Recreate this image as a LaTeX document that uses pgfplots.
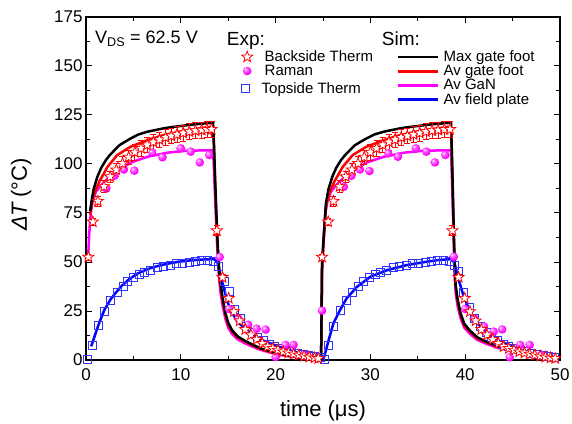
\documentclass[border=0pt]{standalone}
\usepackage{pgfplots}
\pgfplotsset{compat=1.18}
\usepackage{pgfplotstable}
\usepackage{fontspec}
\setmainfont{Liberation Sans}

\definecolor{simred}{RGB}{255,0,0}
\definecolor{simmag}{RGB}{255,0,255}
\definecolor{simblue}{RGB}{0,0,255}
\colorlet{sqblue}{simblue!80!white}

% open five-pointed star
\pgfdeclareplotmark{ostar}{%
  \pgfpathmoveto{\pgfpointpolar{90}{\pgfplotmarksize}}%
  \pgfpathlineto{\pgfpointpolar{126}{0.42\pgfplotmarksize}}%
  \pgfpathlineto{\pgfpointpolar{162}{\pgfplotmarksize}}%
  \pgfpathlineto{\pgfpointpolar{198}{0.42\pgfplotmarksize}}%
  \pgfpathlineto{\pgfpointpolar{234}{\pgfplotmarksize}}%
  \pgfpathlineto{\pgfpointpolar{270}{0.42\pgfplotmarksize}}%
  \pgfpathlineto{\pgfpointpolar{306}{\pgfplotmarksize}}%
  \pgfpathlineto{\pgfpointpolar{342}{0.42\pgfplotmarksize}}%
  \pgfpathlineto{\pgfpointpolar{18}{\pgfplotmarksize}}%
  \pgfpathlineto{\pgfpointpolar{54}{0.42\pgfplotmarksize}}%
  \pgfpathclose
  \pgfusepathqfillstroke
}

% bright magenta sphere for the Raman points
\pgfdeclareradialshading{magball}{\pgfqpoint{-12bp}{12bp}}{%
  color(0bp)=(white); color(9bp)=(simmag!55!white); color(24bp)=(simmag);
  color(42bp)=(simmag!85!black); color(50bp)=(simmag!75!black)}
\pgfdeclareplotmark{magball}{%
  \pgfpathcircle{\pgfpointorigin}{\pgfplotmarksize}%
  \pgfshadepath{magball}{0}%
  \pgfusepath{}%
}

% --- simulation ---
\pgfplotstableread{
x y
0.45 76
0.55 80
0.8 87
1.2 93.5
1.6 98
2.1 102
2.5 104.5
3.0 107
3.5 109.5
4.0 111
4.7 113
5.5 115
6.5 116.5
7.0 117
8.2 118.2
9.0 118.8
10.0 119.4
11.0 120
12.0 120.5
13.3 121
13.4 121
13.5 110
13.6 95
13.75 75
13.9 58
14.05 46
14.2 39
14.4 32
14.7 24
15.0 19
15.4 15.3
16.0 12
16.7 10
17.5 8
18.4 6
19.5 4.3
20.5 3.1
21.5 2.2
22.6 1.4
23.6 0.9
24.6 0.5
24.8 0.3
24.9 50
25.2 72
25.31 80
25.57 87
25.98 93.5
26.39 98
26.9 102
27.32 104.5
27.83 107
28.34 109.5
28.85 111
29.57 113
30.39 115
31.42 116.5
31.93 117
33.16 118.2
33.98 118.8
35.01 119.4
36.04 120
37.06 120.5
38.4 121
38.5 121
38.6 105
38.7 85
38.8 65
38.9 47
39.0 38
39.2 31
39.5 24
39.9 18.5
40.5 15
41.3 11.5
42.3 9.2
43.5 7
45.1 5
46.5 3.3
47.9 2
49.6 0.9
}\maxfoot

\pgfplotstableread{
x y
0.45 74
0.5 77
0.8 84
1.4 91
2.28 98.6
3.3 104.6
4.7 108.8
6.5 112.2
8.2 114.8
10.7 117.3
13.2 119
13.4 119
13.5 108
13.6 93
13.75 73
13.9 56
14.05 44
14.2 37
14.4 30.5
14.7 23
15.0 18
15.4 14.6
16.0 11.5
16.7 9.6
17.5 7.6
18.4 5.7
19.5 4.1
20.5 2.9
21.5 2.1
22.6 1.3
23.6 0.8
24.6 0.4
24.8 0.3
24.9 48
25.2 70
25.26 77
25.57 84
26.19 91
27.09 98.6
28.14 104.6
29.57 108.8
31.42 112.2
33.16 114.8
35.73 117.3
38.29 119
38.5 119
38.6 103
38.7 83
38.8 63
38.9 45
39.0 36.5
39.2 29.5
39.5 23
39.9 17.6
40.5 14.3
41.3 11
42.3 8.8
43.5 6.7
45.1 4.8
46.5 3.2
47.9 1.9
49.6 0.8
}\avfoot

\pgfplotstableread{
x y
0.22 52
0.35 65
0.5 75
0.7 81
1.05 85.9
1.93 91
2.98 95.2
4.7 100.7
6.5 103.7
8.6 105.8
10.7 106.8
13.3 107
13.4 107
13.5 97
13.6 85
13.75 67
13.9 52
14.05 41
14.2 34
14.4 28
14.7 21
15.0 16.5
15.4 13.3
16.0 10.5
16.7 8.7
17.5 6.9
18.4 5.2
19.5 3.7
20.5 2.6
21.5 1.8
22.6 1.1
23.6 0.6
24.6 0.3
24.8 0.2
24.9 45
25.0 55
25.1 65
25.26 75
25.47 81
25.83 85.9
26.73 91
27.81 95.2
29.57 100.7
31.42 103.7
33.57 105.8
35.73 106.8
38.4 107
38.5 107
38.6 93
38.7 76
38.8 58
38.9 42
39.0 34
39.2 27.5
39.5 21.5
39.9 16.5
40.5 13.3
41.3 10.2
42.3 8.1
43.5 6.1
45.1 4.3
46.5 2.8
47.9 1.6
49.6 0.6
}\avgan

\pgfplotstableread{
x y
0.55 7
0.9 12
1.4 19
1.93 25.5
2.6 31
3.0 33.5
3.7 37.5
4.5 41
5.4 44
6.3 46
7.0 47.2
8.0 48.5
9.0 49.5
10.0 50.3
11.0 50.8
12.0 51.2
13.5 51.5
13.85 50
14.2 43
14.55 36.5
14.9 30
15.4 24
16.1 19
17.0 15
18.4 10.5
20.2 7
22.6 3.3
24.6 1
25.05 0.3
25.6 10.2
26.1 18.7
26.8 25.5
27.5 31.5
28.6 37.4
30.0 42.5
31.8 45.9
33.9 48.5
36.0 50.2
37.2 51
38.6 51.5
38.9 49
39.3 41
39.8 33.2
40.5 24.5
41.2 19
42.3 14
44.0 8.5
46.8 3.6
49.6 0.9
}\avplate

% --- experiment ---
\pgfplotstableread{
x y e
0.25 52.5 1.5
0.72 70.5 2
1.25 81 2.5
1.9 88.5 3
2.55 93.5 3
3.2 97 3.5
3.85 100.3 3.5
4.5 103.5 3.5
5.15 106 4
5.8 108 4
6.45 109.7 4
7.1 111.2 4
7.75 112.4 4
8.4 113.6 4
9.0 114.3 4
9.6 115 4
10.25 115.8 4
10.9 116.5 4
11.55 117 4
12.2 117.3 4
12.75 117.6 4
13.25 117.7 4
13.8 66 2.5
14.4 42.2 1.5
15.05 31.5 1.2
15.6 24.7 1
16.2 20 0.8
16.8 15.6 0.7
17.4 12.8 0.6
18.0 10.5 0.5
18.6 8.5 0.4
19.15 6.8 0.4
19.7 5.9 0.3
20.25 5 0.3
20.8 4.2 0.3
21.35 3.6 0.3
21.9 3 0.3
22.45 2.5 0.3
23.0 2 0.3
23.55 1.5 0.3
24.1 1.1 0.3
24.5 0.8 0.3
24.9 52.5 1.5
25.55 70.5 2
26.1 81 2.5
26.75 88.5 3
27.4 93.5 3
28.05 97 3.5
28.7 100.3 3.5
29.35 103.5 3.5
30.0 106 4
30.65 108 4
31.3 109.7 4
31.95 111.2 4
32.6 112.4 4
33.25 113.6 4
33.9 114.3 4
34.55 115 4
35.2 115.8 4
35.85 116.5 4
36.5 117 4
37.15 117.3 4
37.8 117.6 4
38.4 117.7 4
38.65 66 2.5
39.3 42.2 1.5
39.95 31.5 1.2
40.5 24.7 1
41.1 20 0.8
41.7 15.6 0.7
42.3 12.8 0.6
42.9 10.5 0.5
43.5 8.5 0.4
44.05 6.8 0.4
44.6 5.9 0.3
45.15 5 0.3
45.7 4.2 0.3
46.25 3.6 0.3
46.8 3 0.3
47.35 2.5 0.3
47.9 2 0.3
48.45 1.5 0.3
49.0 1.1 0.3
49.5 0.8 0.3
}\backside

\pgfplotstableread{
x y
2.15 87.5
3.0 94
4.0 97.2
5.1 96.6
7.0 105.8
8.07 103.4
10.0 108
11.05 106.3
12.0 100.8
13.0 104.6
14.1 52.5
15.1 26
16.1 21
17.1 18
18.0 16
18.95 15.5
20.0 1.5
21.05 7.7
21.9 7.7
23.0 2.5
24.9 25.2
27.2 88.4
28.0 94
28.9 97.2
29.9 96.4
31.9 105.4
32.9 103.7
34.8 108
35.9 106.3
36.8 100.8
37.9 104.6
38.8 52.7
40.0 26
41.0 21
42.0 17
43.0 14.5
43.9 15.6
44.7 1.4
45.8 7.7
46.8 7.7
48.0 2.5
}\raman

\pgfplotstableread{
x y
0.1 0.5
0.65 7.3
1.3 17.5
1.9 25
2.6 30.6
3.3 34.3
3.9 37.8
4.4 40
5.0 42
5.6 43.7
6.2 44.6
6.8 45.9
7.5 47.3
8.2 48
8.9 48.5
9.5 49.3
10.2 49.5
10.9 50
11.5 50.4
12.2 50.7
12.8 50.7
13.4 50.5
14.0 48
14.6 40
15.1 34.8
15.7 26
16.3 21
16.9 17
17.5 14
18.1 11.5
18.7 9.8
19.3 8.2
19.9 7
20.5 6
21.1 5
21.7 4.2
22.3 3.5
22.9 2.8
23.5 2.2
24.1 1.6
24.7 1.2
25.15 0.5
25.6 7.7
26.1 17
26.8 25.2
27.5 30.6
28.1 34.3
28.7 37.8
29.3 40
29.9 42
30.5 43.7
31.1 44.6
31.7 45.9
32.4 47.3
33.1 48
33.8 48.5
34.4 49.3
35.1 49.5
35.8 50
36.4 50.4
37.1 50.7
37.7 50.7
38.3 50.5
38.9 48.5
39.3 45
39.8 34.3
40.4 27
41.0 21
41.6 17
42.2 14
42.8 11.5
43.4 9.8
44.0 8.2
44.6 7
45.2 6
45.8 5
46.4 4.2
47.0 3.5
47.6 2.8
48.2 2.2
48.8 1.6
49.4 1.2
}\topside

\pgfplotsset{
  explegend/.style={
    scale only axis, width=474pt, height=343pt,
    hide axis, xmin=0, xmax=1, ymin=0, ymax=1,
    legend style={at={(rel axis cs:0.328,#1)}, anchor=north west,
      draw=none, fill=none, inner sep=0pt, column sep=12pt, row sep=0pt,
      font=\fontsize{15}{16}\selectfont,
      nodes={inner ysep=1pt, inner xsep=0pt, anchor=west}},
    legend cell align=left,
    legend image code/.code={\draw[mark repeat=2, mark phase=2, ##1] plot coordinates {(0pt,0pt) (11pt,0pt) (22pt,0pt)};},
  },
}

\begin{document}
\begin{tikzpicture}
\begin{axis}[
  name=ax,
  scale only axis, width=474pt, height=343pt,
  xmin=0, xmax=50, ymin=0, ymax=175,
  xtick={0,10,...,50}, minor xtick={5,15,...,45},
  ytick={0,25,...,175}, minor ytick={12.5,37.5,...,162.5},
  tick align=inside, major tick length=6pt, minor tick length=4pt,
  axis line style={line width=1.2pt},
  every tick/.style={black, line width=1pt},
  tick label style={font=\fontsize{17}{20}\selectfont},
  xticklabel style={yshift=-5pt},
  /pgf/number format/assume math mode=true,
  xlabel={time (μs)}, ylabel={\textit{ΔT}\,(°C)},
  label style={font=\fontsize{22}{26}\selectfont},
  xlabel style={at={(rel axis cs:0.5,-0.166)}, anchor=base},
  ylabel style={at={(rel axis cs:-0.137,0.482)}, anchor=center},
  legend style={at={(rel axis cs:0.656,0.905)}, anchor=north west,
    draw=none, fill=none, inner sep=0pt, column sep=4pt, row sep=0pt,
    font=\fontsize{15}{16}\selectfont,
    nodes={inner ysep=1pt, inner xsep=0pt, anchor=west}},
  legend cell align=left,
  legend image code/.code={\draw[#1] (0pt,0pt) -- (40pt,0pt);},
]
\addplot[only marks, mark=square, mark size=4pt, sqblue, mark options={line width=0.8pt}, forget plot]
  table {\topside};
\addplot[simmag, line width=2.5pt, forget plot] table {\avgan};
\addplot[simred, line width=2.5pt, forget plot] table {\avfoot};
\addplot[simblue, line width=2.5pt, forget plot] table {\avplate};
\addplot[black, line width=2.5pt, forget plot] table {\maxfoot};
\addplot[only marks, mark=magball, mark size=4.3pt, forget plot]
  table {\raman};
\addplot[forget plot, only marks, mark=ostar, mark size=5.8pt, simred, line width=0.8pt,
  mark options={fill=white},
  error bars/.cd, y dir=both, y explicit,
  error bar style={line width=0.7pt, simred},
  error mark options={rotate=90, mark size=3pt, line width=0.7pt, simred}]
  table[x=x, y=y, y error=e] {\backside};
\addlegendimage{black, line width=2.5pt}
\addlegendentry{Max gate foot}
\addlegendimage{simred, line width=2.5pt}
\addlegendentry{Av gate foot}
\addlegendimage{simmag, line width=2.5pt}
\addlegendentry{Av GaN}
\addlegendimage{simblue, line width=2.5pt}
\addlegendentry{Av field plate}
\node[anchor=base west, font=\fontsize{18}{20}\selectfont] at (rel axis cs:0.012,0.923) {V\textsubscript{DS} = 62.5 V};
\node[anchor=base west, font=\fontsize{19}{20}\selectfont] at (rel axis cs:0.290,0.918) {Exp:};
\node[anchor=base west, font=\fontsize{19}{20}\selectfont] at (rel axis cs:0.617,0.918) {Sim:};
\end{axis}
% experimental legend: the square row sits in its own legend
\begin{axis}[explegend=0.905]
\addlegendimage{only marks, mark=ostar, mark size=5.8pt, color=simred, line width=0.8pt, mark options={fill=white}}
\addlegendentry{Backside Therm}
\addlegendimage{only marks, mark=magball, mark size=4.3pt}
\addlegendentry{Raman}
\end{axis}
\begin{axis}[explegend=0.812]
\addlegendimage{only marks, mark=square, mark size=4pt, color=sqblue, line width=0.9pt}
\addlegendentry{Topside Therm}
\end{axis}
\pgfresetboundingbox
\path (ax.south west) ++(-86pt,-63pt) rectangle ++(572pt,423pt);
\end{tikzpicture}
\end{document}
